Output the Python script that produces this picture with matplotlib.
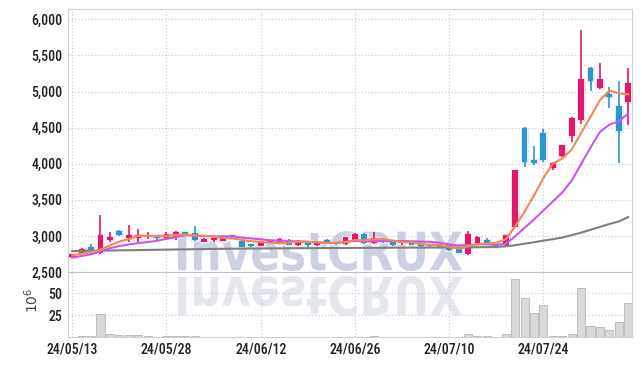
import numpy as np
import matplotlib
matplotlib.use('Agg')
import matplotlib.pyplot as plt
from matplotlib.textpath import TextPath
from matplotlib.patches import PathPatch
from matplotlib.font_manager import FontProperties, fontManager
from matplotlib.transforms import Affine2D, IdentityTransform
from matplotlib.ticker import FuncFormatter

# daily candles, 60 trading days from 24/05/13
tick_pos = [0, 10, 20, 30, 40, 50]
tick_labels = ['24/05/13', '24/05/28', '24/06/12', '24/06/26', '24/07/10', '24/07/24']

opens = [2710, 2750, 2850, 2770, 2950, 3070, 2975, 2975, 2980, 2990,
         2970, 2990, 3050, 3040, 2920, 2940, 2935, 3000, 2935, 2880,
         2865, 2910, 2905, 2950, 2880, 2930, 2870, 2920, 2905, 2890,
         2945, 3030, 2900, 2950, 2920, 2900, 2920, 2885, 2875, 2885,
         2875, 2830, 2750, 2905, 2950, 2885, 2870, 3120, 4500, 4030,
         4430, 3935, 4105, 4380, 4600, 5330, 5050, 4945, 4800, 4850]
highs = [2750, 2830, 2890, 3290, 3060, 3080, 3150, 3090, 3055, 3000,
         3050, 3070, 3060, 3140, 2965, 2990, 2995, 3005, 2940, 2885,
         2935, 2935, 2965, 2960, 2940, 2935, 2925, 2955, 2910, 2985,
         3035, 3035, 3050, 2960, 2925, 2930, 2925, 2890, 2880, 2890,
         2880, 2835, 3070, 3000, 2975, 2890, 3015, 3915, 4510, 4250,
         4480, 4020, 4265, 4650, 5850, 5335, 5400, 5070, 5140, 5330]
lows = [2700, 2745, 2770, 2750, 2910, 2995, 2910, 2920, 2960, 2940,
        2950, 2950, 3000, 2930, 2910, 2910, 2930, 2975, 2845, 2850,
        2860, 2905, 2900, 2870, 2860, 2850, 2865, 2885, 2880, 2880,
        2940, 2895, 2895, 2900, 2865, 2875, 2875, 2850, 2850, 2845,
        2795, 2765, 2730, 2900, 2870, 2840, 2860, 3110, 3960, 3985,
        4030, 3910, 4100, 4300, 4550, 5010, 5040, 4770, 4010, 4540]
closes = [2740, 2820, 2780, 3010, 2990, 3010, 2985, 3005, 3005, 2975,
          3030, 3060, 3025, 2940, 2960, 2955, 2990, 2980, 2850, 2855,
          2910, 2930, 2960, 2880, 2930, 2880, 2920, 2905, 2885, 2980,
          3030, 2900, 2970, 2910, 2870, 2925, 2880, 2855, 2855, 2850,
          2800, 2770, 3020, 2990, 2895, 2850, 3010, 3910, 4020, 4015,
          4050, 4015, 4260, 4640, 5180, 5150, 5170, 4925, 4450, 5120]
# volume in millions
volume = [0.5, 0.8, 0.8, 26, 3, 2, 2, 2, 1.2, 0.4,
          0.8, 0.8, 0.8, 1.5, 0.3, 0.3, 0.3, 0.3, 0.3, 0.3,
          0.3, 0.3, 0.3, 0.3, 0.3, 0.3, 0.3, 0.3, 0.3, 0.3,
          0.3, 0.3, 1.0, 0.3, 0.3, 0.3, 0.3, 0.3, 0.3, 0.3,
          0.3, 0.3, 4, 1, 1, 0.3, 3, 66.5, 45, 28,
          37, 1.5, 1.5, 3, 56.5, 13, 12, 8, 16.7, 39.5]
ma5 = [2730, 2755, 2775, 2810, 2868, 2922, 2955, 3000, 2999, 2996,
       3000, 3015, 3019, 3006, 3003, 2988, 2974, 2965, 2947, 2926,
       2917, 2905, 2901, 2907, 2922, 2916, 2914, 2903, 2904, 2914,
       2944, 2940, 2953, 2958, 2936, 2915, 2911, 2888, 2877, 2873,
       2848, 2826, 2859, 2886, 2895, 2905, 2953, 3131, 3337, 3561,
       3801, 4002, 4072, 4196, 4429, 4649, 4880, 5013, 4975, 4963]
ma10 = [2700, 2722, 2745, 2785, 2830, 2860, 2882, 2900, 2915, 2932,
        2961, 2985, 3010, 3003, 3000, 2994, 2995, 2992, 2977, 2965,
        2953, 2940, 2933, 2927, 2924, 2917, 2910, 2902, 2906, 2918,
        2930, 2927, 2928, 2931, 2925, 2930, 2926, 2921, 2918, 2905,
        2882, 2869, 2874, 2882, 2884, 2877, 2890, 2995, 3112, 3228,
        3353, 3478, 3602, 3767, 3995, 4225, 4441, 4543, 4586, 4696]
ma_long = [2790, 2792, 2794, 2796, 2798, 2800, 2802, 2804, 2806, 2808,
           2810, 2812, 2814, 2816, 2818, 2820, 2822, 2823, 2824, 2825,
           2826, 2827, 2828, 2829, 2830, 2830, 2831, 2832, 2832, 2833,
           2834, 2835, 2836, 2836, 2837, 2837, 2838, 2838, 2839, 2839,
           2840, 2840, 2841, 2843, 2845, 2847, 2855, 2872, 2892, 2912,
           2935, 2955, 2978, 3010, 3045, 3085, 3125, 3165, 3200, 3262]

names = set(f.name for f in fontManager.ttflist)
tick_font = 'DejaVu Sans'
for cand in ['DejaVu Sans Condensed', 'Roboto Condensed', 'Liberation Sans Narrow', 'Roboto']:
    if cand in names:
        tick_font = cand
        break

x = np.arange(len(closes))
o = np.array(opens)
c = np.array(closes)
up = c >= o
red = '#e0196b'
blue = '#2a97c9'
colors = np.where(up, red, blue)

fig = plt.figure(figsize=(6.42, 3.66), dpi=100)
ax = fig.add_axes([0.1059, 0.2568, 0.8785, 0.7178])
axv = fig.add_axes([0.1059, 0.0792, 0.8785, 0.1776], sharex=ax)
for a in (ax, axv):
    a.set_facecolor('none')

# watermark + reflection
fp = FontProperties(family='DejaVu Sans', weight='bold')
tp = TextPath((0, 0), 'InvestCRUX', size=40, prop=fp)
bb = tp.get_extents()
sx = 284 / bb.width
sy = 40 / bb.height
main_tr = Affine2D().translate(-bb.x0, -bb.y0).scale(sx, sy).translate(178, 366 - 271)
refl_tr = Affine2D().translate(-bb.x0, -bb.y0).scale(sx, -sy).translate(178, 366 - 276)
fig.add_artist(PathPatch(main_tr.transform_path(tp), transform=IdentityTransform(),
                         facecolor='#cbd1e2', edgecolor='none', zorder=-1))
fig.add_artist(PathPatch(refl_tr.transform_path(tp), transform=IdentityTransform(),
                         facecolor='#e5e7ef', edgecolor='none', zorder=-1))

# candles
body_low = np.minimum(o, c)
body_h = np.maximum(np.abs(c - o), 35)
ax.bar(x, body_h, bottom=body_low, width=0.62, color='#ece6f3',
       edgecolor='#ece6f3', linewidth=2.2, zorder=2)
ax.vlines(x, lows, highs, color=colors, lw=1.2, zorder=3)
ax.bar(x, body_h, bottom=body_low, width=0.62, color=colors, linewidth=0, zorder=4)

ax.plot(x, ma_long, color='#7f7f7f', lw=1.5, zorder=5)
ax.plot(x, ma10, color='#cc55ee', lw=1.5, zorder=5)
ax.plot(x, ma5, color='#ef8a52', lw=1.5, zorder=5)

axv.bar(x, volume, width=0.86, color='#d9d9d9', edgecolor='#bdbdbd', lw=0.7, zorder=3)

ax.set_xlim(-0.45, 59.4)
ax.set_ylim(2500, 6140)
ax.set_yticks(range(2500, 6001, 500))
ax.yaxis.set_major_formatter(FuncFormatter(lambda v, p: f'{int(v):,}'))
axv.set_ylim(0, 74.5)
axv.set_yticks([25, 50])
axv.set_xticks(tick_pos)
axv.set_xticklabels(tick_labels)

gcol = '#c5c8d8'
for a in (ax, axv):
    a.grid(True, ls=(0, (1, 2)), color=gcol, lw=0.8, zorder=0)
    a.tick_params(length=0, labelsize=10, colors='#222222')
    for lab in a.get_yticklabels() + a.get_xticklabels():
        lab.set_fontfamily(tick_font)
        lab.set_fontweight('medium')
    for s in a.spines.values():
        s.set_color('#d0d0d0')
ax.tick_params(labelbottom=False, pad=4)
axv.tick_params(axis='y', pad=4)
axv.tick_params(axis='x', pad=4)
ax.spines['bottom'].set_color('#c0c0c0')
axv.spines['top'].set_visible(False)

fig.text(32 / 642, 1 - 300 / 366, r'$10^{6}$', rotation=90, ha='center', va='center',
         fontsize=10, color='#444444')

fig.savefig('out.png', dpi=100)
